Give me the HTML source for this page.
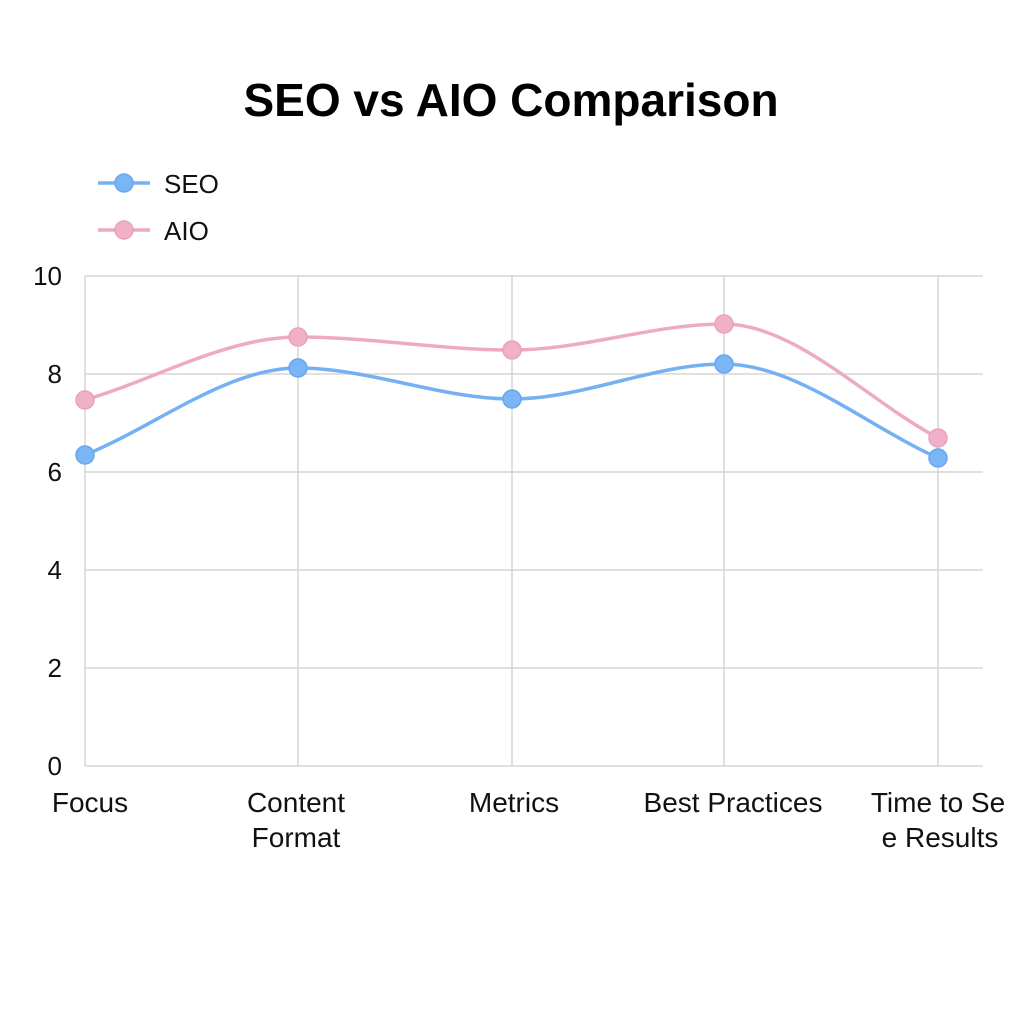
<!DOCTYPE html>
<html><head><meta charset="utf-8"><style>
html,body{margin:0;padding:0;background:#fff;}
svg{display:block;font-family:"Liberation Sans",sans-serif;}
</style></head><body>
<svg width="1024" height="1024" viewBox="0 0 1024 1024">
<rect width="1024" height="1024" fill="#fff"/>
<text x="511" y="116" text-anchor="middle" font-size="46" font-weight="bold" fill="#000">SEO vs AIO Comparison</text>
<!-- legend -->
<line x1="98" y1="183" x2="150" y2="183" stroke="#74b0f4" stroke-width="3.5"/>
<circle cx="124" cy="183" r="9" fill="#7ab5f6" stroke="#6aa6ee" stroke-width="1.5"/>
<text x="164" y="193" font-size="26" fill="#111">SEO</text>
<line x1="98" y1="230" x2="150" y2="230" stroke="#eeaac4" stroke-width="3.5"/>
<circle cx="124" cy="230" r="9" fill="#f0b0c8" stroke="#e8a2bc" stroke-width="1.5"/>
<text x="164" y="240" font-size="26" fill="#111">AIO</text>
<!-- grid -->
<g stroke="#d6d6d6" stroke-width="1.5">
<line x1="85" y1="276" x2="983" y2="276"/>
<line x1="85" y1="374" x2="983" y2="374"/>
<line x1="85" y1="472" x2="983" y2="472"/>
<line x1="85" y1="570" x2="983" y2="570"/>
<line x1="85" y1="668" x2="983" y2="668"/>
<line x1="85" y1="766" x2="983" y2="766"/>
<line x1="85" y1="276" x2="85" y2="766"/>
<line x1="298" y1="276" x2="298" y2="766"/>
<line x1="512" y1="276" x2="512" y2="766"/>
<line x1="724" y1="276" x2="724" y2="766"/>
<line x1="938" y1="276" x2="938" y2="766"/>
</g>
<g font-size="26" fill="#111" text-anchor="end">
<text x="62" y="285">10</text>
<text x="62" y="383">8</text>
<text x="62" y="481">6</text>
<text x="62" y="579">4</text>
<text x="62" y="677">2</text>
<text x="62" y="775">0</text>
</g>
<g font-size="28" fill="#111" text-anchor="middle">
<text x="90" y="812">Focus</text>
<text x="296" y="812">Content</text>
<text x="296" y="847">Format</text>
<text x="514" y="812">Metrics</text>
<text x="733" y="812">Best Practices</text>
<text x="938" y="812">Time to Se</text>
<text x="940" y="847">e Results</text>
</g>
<!-- AIO -->
<path d="M85,400 C156,379 227,337 298,337 C369,337 441,350 512,350 C583,350 653,324 724,324 C795,324 867,400 938,438" fill="none" stroke="#eeaac4" stroke-width="3.5"/>
<g fill="#f0b0c8" stroke="#e8a2bc" stroke-width="1.5">
<circle cx="85" cy="400" r="9"/><circle cx="298" cy="337" r="9"/><circle cx="512" cy="350" r="9"/><circle cx="724" cy="324" r="9"/><circle cx="938" cy="438" r="9"/>
</g>
<!-- SEO -->
<path d="M85,455 C156,426 227,368 298,368 C369,368 441,399 512,399 C583,399 653,364 724,364 C795,364 867,426 938,458" fill="none" stroke="#74b0f4" stroke-width="3.5"/>
<g fill="#7ab5f6" stroke="#6aa6ee" stroke-width="1.5">
<circle cx="85" cy="455" r="9"/><circle cx="298" cy="368" r="9"/><circle cx="512" cy="399" r="9"/><circle cx="724" cy="364" r="9"/><circle cx="938" cy="458" r="9"/>
</g>
</svg>
</body></html>
